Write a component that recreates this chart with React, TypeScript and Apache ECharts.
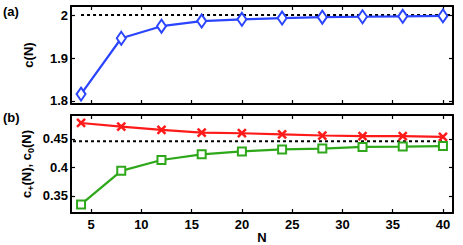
import React, { useEffect, useRef } from "react";
import * as echarts from "echarts";

const N = [4, 8, 12, 16, 20, 24, 28, 32, 36, 40];
const cN = [1.816, 1.946, 1.974, 1.986, 1.99, 1.993, 1.995, 1.996, 1.997, 1.998];
const cPlus = [0.478, 0.4717, 0.466, 0.461, 0.46, 0.458, 0.456, 0.455, 0.455, 0.4535];
const cZero = [0.335, 0.394, 0.413, 0.423, 0.428, 0.4315, 0.433, 0.436, 0.4365, 0.4375];
const asymTop = 2;
const asymBottom = 0.446;
const xTicks = [5, 10, 15, 20, 25, 30, 35, 40];
const yTicksTop = [1.8, 1.9, 2];
const yTicksBottom = [0.35, 0.4, 0.45];
const yLabelsTop = ["1.8", "1.9", "2"];
const yLabelsBottom = ["0.35", "0.4", "0.45"];

const FONT = "'Liberation Sans', Arial, Helvetica, sans-serif";
const BLUE = "#2a44ff";
const RED = "#ff1a1a";
const GREEN = "#2ea81a";

export default function App() {
  const ref = useRef<HTMLDivElement>(null);
  useEffect(() => {
    if (!ref.current) return;
    const chart = echarts.init(ref.current, null, { renderer: "svg" });
    const axisLine = { show: true, lineStyle: { color: "#000", width: 2 } };
    const xBase = (gridIndex: number, position: string, showLabels: boolean, name?: string) => ({
      type: "value",
      gridIndex,
      position,
      min: 3,
      max: 41,
      axisLine,
      axisTick: { show: true, inside: true, length: 4, lineStyle: { color: "#000", width: 1.2 }, customValues: xTicks },
      axisLabel: {
        show: showLabels,
        customValues: xTicks,
        fontFamily: FONT,
        fontWeight: "bold",
        fontSize: 13,
        color: "#000",
        margin: 5,
      },
      splitLine: { show: false },
      name: name || "",
      nameLocation: "middle",
      nameGap: 18,
      nameMoveOverlap: false,
      nameTextStyle: { fontFamily: FONT, fontWeight: "bold", fontSize: 13, color: "#000" },
    });
    const yBase = (
      gridIndex: number,
      position: string,
      min: number,
      max: number,
      ticks: number[],
      labels: string[],
      showLabels: boolean,
      name?: string
    ) => ({
      type: "value",
      gridIndex,
      position,
      min,
      max,
      axisLine,
      axisTick: { show: true, inside: true, length: 4, lineStyle: { color: "#000", width: 1.2 }, customValues: ticks },
      axisLabel: {
        show: showLabels,
        customValues: ticks,
        formatter: (v: number) => {
          const i = ticks.findIndex((t) => Math.abs(t - v) < 1e-9);
          return i >= 0 ? labels[i] : "";
        },
        fontFamily: FONT,
        fontWeight: "bold",
        fontSize: 13,
        color: "#000",
        margin: 3,
      },
      splitLine: { show: false },
      name: name || "",
      nameLocation: "middle",
      nameRotate: 90,
      nameGap: 36,
      nameMoveOverlap: false,
      nameTextStyle: {
        fontFamily: FONT,
        fontWeight: "bold",
        fontSize: 13,
        color: "#000",
        rich: {
          s: { fontFamily: FONT, fontWeight: "bold", fontSize: 9, color: "#000", padding: [8, 0, 0, 0] },
        },
      },
    });

    const pairs = (ys: number[]) => N.map((n, i) => [n, ys[i]]);

    chart.setOption({
      animation: false,
      grid: [
        { left: 71, right: 10, top: 6, height: 98 },
        { left: 71, right: 10, top: 115, height: 98 },
      ],
      xAxis: [
        xBase(0, "bottom", false),
        xBase(0, "top", false),
        xBase(1, "bottom", true, "N"),
        xBase(1, "top", false),
      ],
      yAxis: [
        yBase(0, "left", 1.793, 2.021, yTicksTop, yLabelsTop, true, "c(N)"),
        yBase(0, "right", 1.793, 2.021, yTicksTop, yLabelsTop, false),
        yBase(1, "left", 0.32, 0.492, yTicksBottom, yLabelsBottom, true, "c{s|+}(N), c{s|0}(N)"),
        yBase(1, "right", 0.32, 0.492, yTicksBottom, yLabelsBottom, false),
      ],
      graphic: [
        { type: "text", left: 3, top: 5, style: { text: "(a)", fontFamily: FONT, fontWeight: "bold", fontSize: 13, fill: "#000" } },
        { type: "text", left: 3, top: 111, style: { text: "(b)", fontFamily: FONT, fontWeight: "bold", fontSize: 13, fill: "#000" } },
      ],
      series: [
        {
          type: "line",
          xAxisIndex: 0,
          yAxisIndex: 0,
          data: [[4, asymTop], [41, asymTop]],
          symbol: "none",
          lineStyle: { color: "#000", width: 2, type: [3, 3] },
          z: 1,
        },
        {
          type: "line",
          xAxisIndex: 0,
          yAxisIndex: 0,
          data: pairs(cN),
          symbol: "diamond",
          symbolSize: [9, 13],
          lineStyle: { color: BLUE, width: 2.2 },
          itemStyle: { color: "#fff", borderColor: BLUE, borderWidth: 2 },
          z: 3,
        },
        {
          type: "line",
          xAxisIndex: 2,
          yAxisIndex: 2,
          data: [[3.2, asymBottom], [40, asymBottom]],
          symbol: "none",
          lineStyle: { color: "#000", width: 2, type: [3, 3] },
          z: 1,
        },
        {
          type: "line",
          xAxisIndex: 2,
          yAxisIndex: 2,
          data: pairs(cPlus),
          symbol: "path://M0 0 L10 10 M10 0 L0 10",
          symbolSize: 8,
          lineStyle: { color: RED, width: 2.2 },
          itemStyle: { color: RED, borderColor: RED, borderWidth: 2.5 },
          z: 3,
        },
        {
          type: "line",
          xAxisIndex: 2,
          yAxisIndex: 2,
          data: pairs(cZero),
          symbol: "rect",
          symbolSize: 8,
          lineStyle: { color: GREEN, width: 2.2 },
          itemStyle: { color: "#fff", borderColor: GREEN, borderWidth: 2 },
          z: 3,
        },
      ],
    });
    return () => chart.dispose();
  }, []);
  return (
    <div
      ref={ref}
      style={{ position: "fixed", left: 0, top: 0, width: 463, height: 245, background: "#fff" }}
    />
  );
}
